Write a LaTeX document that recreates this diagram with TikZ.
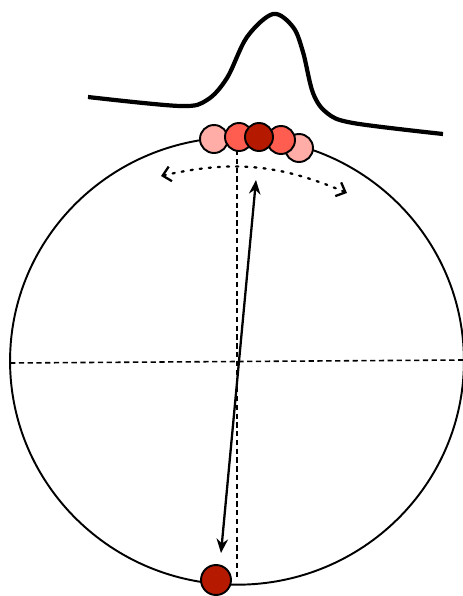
\documentclass[tikz,border=0pt]{standalone}
\usepackage{tikz}
\usetikzlibrary{positioning,shapes,arrows.meta,calc}
\definecolor{lightred}{HTML}{FFADA6}
\definecolor{midred}{HTML}{FF5D50}
\definecolor{darkred}{HTML}{B51A00}

\begin{document}
\begin{tikzpicture}[x=0.02cm, y=-0.02cm,
  bead/.style={circle, draw, line width=1.1pt, minimum size=0.56cm, inner sep=0pt},
  guide/.style={dash pattern=on 3pt off 2pt, line width=0.9pt},
  arr/.style={{Stealth[length=8pt,width=6.5pt]}-{Stealth[length=8pt,width=6.5pt]}, line width=1.3pt},
  swing/.style={{Straight Barb[length=4.5pt,width=8.5pt]}-{Straight Barb[length=4.5pt,width=8.5pt]},
                dash pattern=on 1.2pt off 4pt, line cap=round, line width=1.3pt}
]
  \useasboundingbox (0,0) rectangle (463,596);
  % sphere and axes
  \node[ellipse, draw, line width=1.1pt, minimum width=9.08cm, minimum height=8.95cm, inner sep=0pt] (ball) at (237,361) {};
  \coordinate (lft) at (10,363);
  \coordinate (rgt) at (463,360);
  \coordinate (top) at (237,150);
  \coordinate (bot) at (237,580);
  \draw[guide] (lft) -- (rgt);
  \draw[guide] (top) -- (bot);
  % distribution
  \draw[line width=2.4pt, line join=round] plot[smooth, tension=0.55] coordinates
    {(88,97) (180,106) (207,100) (227,78) (247,37) (273,14) (293,27) (303,52) (313,93) (327,113) (353,123) (443,134)};
  % beads on top
  \node[bead, fill=lightred] (p1) at (214,139) {};
  \node[bead, fill=lightred] (p5) at (299,148) {};
  \node[bead, fill=midred]   (p2) at (239,137) {};
  \node[bead, fill=midred]   (p4) at (281,140) {};
  \node[bead, fill=darkred]  (p3) at (259,137) {};
  % bead at bottom
  \node[bead, fill=darkred, minimum size=0.6cm] (q) at (216,580) {};
  % arrows
  \coordinate (a1) at (256,180);
  \coordinate (a2) at (221,553);
  \draw[arr] (a2) -- (a1);
  \coordinate (s1) at (161,176);
  \coordinate (s2) at (347,193);
  \draw[swing] (s1) to[bend left=18] (s2);
\end{tikzpicture}
\end{document}
